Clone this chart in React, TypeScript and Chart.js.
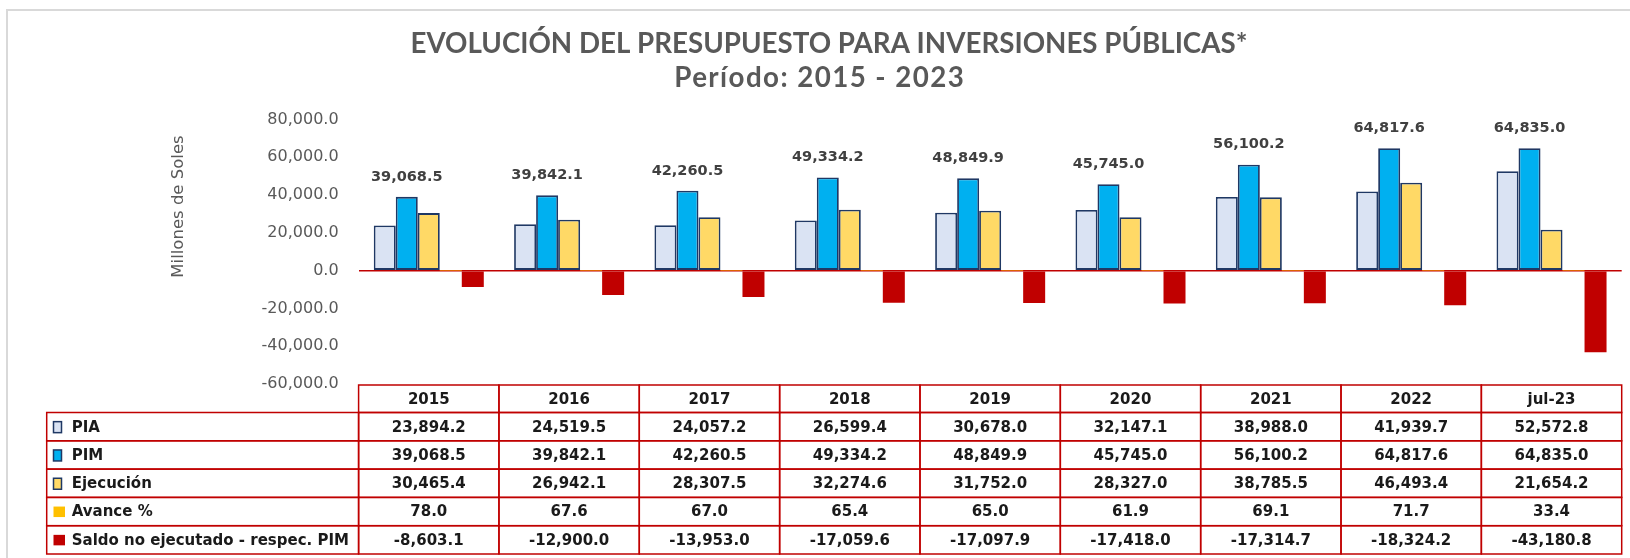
import React, { useEffect, useRef } from 'react';
import { Chart, registerables } from 'chart.js';

Chart.register(...registerables);

const categories = ['2015', '2016', '2017', '2018', '2019', '2020', '2021', '2022', 'jul-23'];
const pia = [23894.2, 24519.5, 24057.2, 26599.4, 30678.0, 32147.1, 38988.0, 41939.7, 52572.8];
const pim = [39068.5, 39842.1, 42260.5, 49334.2, 48849.9, 45745.0, 56100.2, 64817.6, 64835.0];
const ejecucion = [30465.4, 26942.1, 28307.5, 32274.6, 31752.0, 28327.0, 38785.5, 46493.4, 21654.2];
const avance = [78.0, 67.6, 67.0, 65.4, 65.0, 61.9, 69.1, 71.7, 33.4];
const saldo = [-8603.1, -12900.0, -13953.0, -17059.6, -17097.9, -17418.0, -17314.7, -18324.2, -43180.8];
const seriesNames = ['PIA', 'PIM', 'Ejecución', 'Avance %', 'Saldo no ejecutado - respec. PIM'];
const titleLines = ['EVOLUCIÓN DEL PRESUPUESTO PARA INVERSIONES PÚBLICAS*', 'Período: 2015 - 2023'];
const yAxisTitle = 'Millones de Soles';
const yMin = -60000;
const yMax = 80000;
const yStep = 20000;

const fills = ['#DAE3F3', '#00B0F0', '#FFD966', '#FFC000', '#C00000'];
const NAVY = '#1F3864';
const RED = '#C00000';

const fmt = (v: number) =>
  v.toLocaleString('en-US', { minimumFractionDigits: 1, maximumFractionDigits: 1 });

const decorPlugin = {
  id: 'decor',
  beforeDraw(chart: any) {
    const ctx = chart.ctx;
    ctx.save();
    ctx.fillStyle = '#FFFFFF';
    ctx.fillRect(0, 0, chart.width, chart.height);
    ctx.strokeStyle = '#D9D9D9';
    ctx.lineWidth = 2;
    ctx.strokeRect(7, 10, chart.width + 40, chart.height + 40);
    ctx.restore();
  },
  afterDraw(chart: any) {
    const ctx = chart.ctx;
    const xs = chart.scales.x;
    ctx.save();

    // Title (fit to reference width)
    ctx.fillStyle = '#595959';
    ctx.textBaseline = 'middle';
    ctx.textAlign = 'center';
    ctx.font = 'bold 100px Lato';
    const w0 = ctx.measureText(titleLines[0]).width;
    const tSize = (100 * 837) / w0;
    ctx.font = `bold ${tSize}px Lato`;
    ctx.fillText(titleLines[0], 829, 44);
    const w1 = ctx.measureText(titleLines[1]).width;
    const sp = Math.max(0, (291 - w1) / titleLines[1].length);
    ctx.letterSpacing = `${sp}px`;
    ctx.fillText(titleLines[1], 819 + sp / 2, 78);
    ctx.letterSpacing = '0px';

    // Y-axis title
    ctx.save();
    ctx.translate(179, 206.5);
    ctx.rotate(-Math.PI / 2);
    ctx.font = '16.5px "DejaVu Sans"';
    ctx.fillStyle = '#595959';
    ctx.fillText(yAxisTitle, 0, 0);
    ctx.restore();

    // PIM data labels
    const meta = chart.getDatasetMeta(1);
    ctx.font = 'bold 14.5px "DejaVu Sans"';
    ctx.fillStyle = '#404040';
    meta.data.forEach((bar: any, i: number) => {
      ctx.fillText(fmt(pim[i]), bar.x, bar.y - 20);
    });

    // Data table
    const n = categories.length;
    const cw = (xs.right - xs.left) / n;
    const top = chart.chartArea.bottom + 1;
    const hh = 27.5;
    const rh = 28.3;
    const labelLeft = 46.7;
    const rows = [pia, pim, ejecucion, avance, saldo];

    ctx.strokeStyle = RED;
    ctx.lineWidth = 1.5;
    for (let i = 0; i < n; i++) ctx.strokeRect(xs.left + i * cw, top, cw, hh);
    for (let r = 0; r < rows.length; r++) {
      const y = top + hh + r * rh;
      ctx.strokeRect(labelLeft, y, xs.left - labelLeft, rh);
      for (let i = 0; i < n; i++) ctx.strokeRect(xs.left + i * cw, y, cw, rh);
    }

    ctx.fillStyle = '#1A1A1A';
    ctx.font = 'bold 15px "DejaVu Sans"';
    ctx.textAlign = 'center';
    for (let i = 0; i < n; i++) {
      ctx.fillText(categories[i], xs.getPixelForValue(i), top + hh / 2 + 1);
    }
    for (let r = 0; r < rows.length; r++) {
      const cy = top + hh + r * rh + rh / 2 + 1;
      ctx.textAlign = 'center';
      ctx.fillStyle = '#1A1A1A';
      for (let i = 0; i < n; i++) {
        ctx.fillText(fmt(rows[r][i]), xs.getPixelForValue(i), cy);
      }
      // legend key
      const bordered = r < 3;
      ctx.fillStyle = fills[r];
      if (bordered) {
        ctx.fillRect(53.5, cy - 6, 8, 11);
        ctx.strokeStyle = NAVY;
        ctx.lineWidth = 1.5;
        ctx.strokeRect(53.5, cy - 6, 8, 11);
      } else {
        ctx.fillRect(53.5, cy - 6, 11.5, 10.5);
      }
      ctx.textAlign = 'left';
      ctx.fillStyle = '#1A1A1A';
      ctx.fillText(seriesNames[r], 71.7, cy);
    }
    ctx.restore();
  },
};

export default function App() {
  const ref = useRef<HTMLCanvasElement | null>(null);

  useEffect(() => {
    document.body.style.margin = '0';
    document.body.style.overflow = 'hidden';
    if (!ref.current) return;
    const datasets = [pia, pim, ejecucion, avance, saldo].map((d, k) => ({
      label: seriesNames[k],
      data: d,
      backgroundColor: fills[k],
      borderColor: k < 3 ? NAVY : fills[k],
      borderWidth: k < 3 ? 1.8 : 0,
      borderSkipped: false as const,
    }));
    const chart = new Chart(ref.current, {
      type: 'bar',
      data: { labels: categories, datasets },
      options: {
        animation: false,
        responsive: false,
        devicePixelRatio: 1,
        layout: { padding: { top: 119.5, bottom: 174, left: 0, right: 8.3 } },
        datasets: { bar: { categoryPercentage: 0.784, barPercentage: 1 } },
        plugins: {
          legend: { display: false },
          title: { display: false },
          tooltip: { enabled: false },
        },
        scales: {
          x: { display: false, offset: true, grid: { display: false } },
          y: {
            min: yMin,
            max: yMax,
            ticks: {
              stepSize: yStep,
              callback: (v: any) => fmt(Number(v)),
              color: '#595959',
              font: { family: 'DejaVu Sans', size: 16 },
              padding: 20,
            },
            grid: {
              drawTicks: false,
              color: (c: any) => (c.tick && c.tick.value === 0 ? RED : 'rgba(0,0,0,0)'),
              lineWidth: 1.5,
            },
            border: { display: false },
            afterFit: (s: any) => {
              s.width = 358.6;
            },
          },
        },
      },
      plugins: [decorPlugin],
    });
    return () => chart.destroy();
  }, []);

  return (
    <div style={{ width: 1630, height: 558, position: 'relative' }}>
      <canvas ref={ref} width={1630} height={558} style={{ display: 'block' }} />
    </div>
  );
}
